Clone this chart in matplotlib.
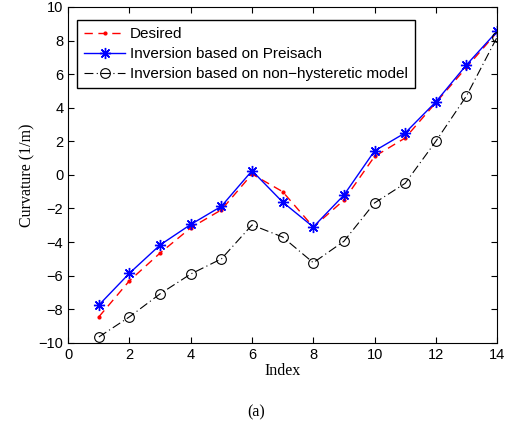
import numpy as np
import matplotlib.pyplot as plt

idx = np.arange(1, 15)
desired = [-8.45, -6.3, -4.65, -3.15, -2.08, 0.05, -1.0, -3.1, -1.5, 1.1, 2.2, 4.3, 6.4, 8.5]
preisach = [-7.75, -5.85, -4.17, -2.95, -1.87, 0.25, -1.62, -3.1, -1.2, 1.43, 2.5, 4.35, 6.55, 8.55]
nonhyst = [-9.65, -8.45, -7.08, -5.9, -5.0, -2.98, -3.7, -5.23, -3.95, -1.67, -0.5, 2.0, 4.7, 8.2]

plt.rcParams['font.family'] = ['Liberation Sans', 'DejaVu Sans']
plt.rcParams['xtick.direction'] = 'in'
plt.rcParams['ytick.direction'] = 'in'

fig = plt.figure(figsize=(5.13, 4.34), dpi=100)
ax = fig.add_axes([0.133, 0.21, 0.836, 0.774])

ax.plot(idx, desired, color='red', linestyle=(0, (6, 4)), linewidth=1, marker='.', markersize=4,
        label='Desired')
ax.plot(idx, preisach, color='blue', linestyle='-', linewidth=1, marker=(8, 2, 0), markersize=8,
        markeredgewidth=1, label='Inversion based on Preisach')
ax.plot(idx, nonhyst, color='black', linestyle=(0, (8, 3, 1, 3)), linewidth=0.8, marker='o',
        markersize=7, markerfacecolor='none', markeredgewidth=0.8,
        label='Inversion based on non\u2212hysteretic model')

ax.set_xlim(0, 14)
ax.set_ylim(-10, 10)
ax.set_xticks(range(0, 15, 2))
ax.set_yticks(range(-10, 11, 2))
ax.tick_params(labelsize=10.5, top=True, right=True, length=4)
for s in ax.spines.values():
    s.set_linewidth(0.8)

ax.set_xlabel('Index', family='Liberation Serif', fontsize=11.5, labelpad=1)
ax.set_ylabel('Curvature (1/m)', family='Liberation Serif', fontsize=11.5, labelpad=2)

leg = ax.legend(loc='upper left', bbox_to_anchor=(0.021, 0.961), borderaxespad=0, fontsize=11,
                fancybox=False, framealpha=1, edgecolor='black', borderpad=0.45,
                labelspacing=0.4, handlelength=2.7, handletextpad=0.3)
leg.get_frame().set_linewidth(1)

fig.text(0.5, 0.05, '(a)', ha='center', va='center', family='Liberation Serif', fontsize=11.5)

fig.savefig('out.png', dpi=100)
